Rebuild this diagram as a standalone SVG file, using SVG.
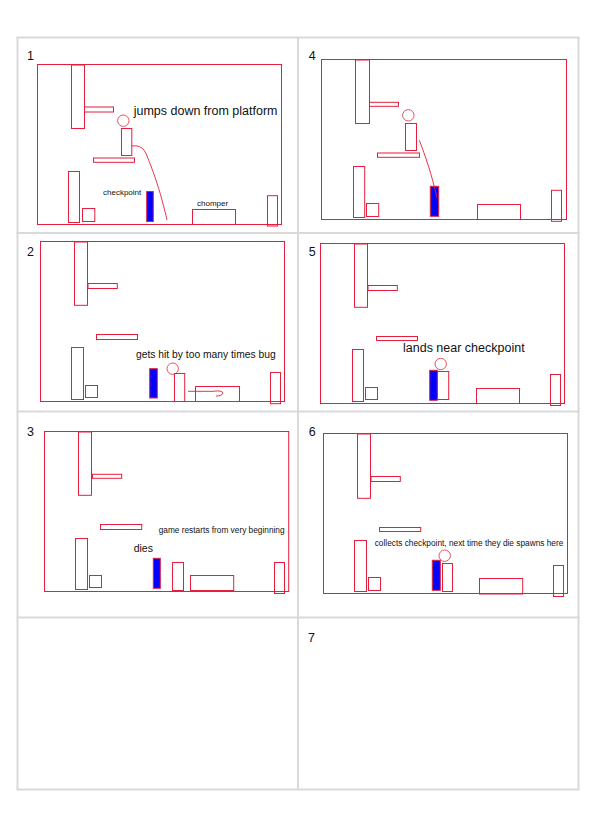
<svg xmlns="http://www.w3.org/2000/svg" width="595" height="832" viewBox="0 0 595 832">
<style>
.grid{stroke:#d9d9d9;stroke-width:2;fill:none}
.r{fill:none;stroke:#e41e3c;stroke-width:1}
.cp{fill:#0000ff;stroke:#e41e3c;stroke-width:1}
.head{fill:none;stroke:#e8505f;stroke-width:1}
.path{fill:none;stroke:#e41e3c;stroke-width:0.9}
.num{font-family:"Liberation Sans",Arial,sans-serif;font-size:12.5px;fill:#111}
.t{font-family:"Liberation Sans",Arial,sans-serif;fill:#111}
</style>
<rect width="595" height="832" fill="#fff"/>
<g id="grid">
<line class="grid" x1="17.5" y1="37" x2="17.5" y2="790"/>
<line class="grid" x1="298" y1="37" x2="298" y2="790"/>
<line class="grid" x1="578.5" y1="37" x2="578.5" y2="790"/>
<line class="grid" x1="16.5" y1="37.5" x2="579.5" y2="37.5"/>
<line class="grid" x1="16.5" y1="233" x2="579.5" y2="233"/>
<line class="grid" x1="16.5" y1="411.5" x2="579.5" y2="411.5"/>
<line class="grid" x1="16.5" y1="617.5" x2="579.5" y2="617.5"/>
<line class="grid" x1="16.5" y1="789.5" x2="579.5" y2="789.5"/>
</g>

<g id="panel1">
<text class="num" x="27" y="60">1</text>
<rect class="r" x="37.5" y="64.5" width="244" height="160"/>
<rect class="r" x="71.5" y="65" width="13" height="63.5"/>
<rect class="r" x="84.5" y="107" width="29" height="5"/>
<circle class="head" cx="123.3" cy="120.7" r="5.7"/>
<rect class="r" x="121.5" y="128.5" width="10.3" height="27"/>
<rect class="r" x="93.5" y="158" width="41" height="4.3"/>
<rect class="r" x="68.5" y="171.5" width="11" height="51"/>
<rect class="r" x="82.5" y="208.5" width="12.3" height="13"/>
<rect class="cp" x="146.7" y="191.5" width="6.6" height="30"/>
<text class="t" x="103" y="194.5" font-size="8">checkpoint</text>
<rect class="r" x="192.5" y="209.5" width="43" height="15"/>
<text class="t" x="197" y="205.5" font-size="8">chomper</text>
<rect class="r" x="267.5" y="195.7" width="10" height="30.3"/>
<text class="t" x="133.7" y="114.5" font-size="12.5">jumps down from platform</text>
</g>

<g id="panel4">
<text class="num" x="308.7" y="59.7">4</text>
<rect class="r" x="321.5" y="59.5" width="245" height="160"/>
<rect class="r" x="355.5" y="60" width="14" height="63.5"/>
<rect class="r" x="369.5" y="102.3" width="29" height="4"/>
<circle class="head" cx="408.3" cy="115.3" r="5.7"/>
<rect class="r" x="405.5" y="123.5" width="11" height="27"/>
<rect class="r" x="377.5" y="153" width="42" height="4.3"/>
<rect class="r" x="353.5" y="166.5" width="11.2" height="51"/>
<rect class="r" x="366.5" y="203.5" width="12.2" height="13"/>
<rect class="cp" x="430.3" y="186.3" width="8.4" height="30"/>
<rect class="r" x="477.5" y="204.5" width="43" height="15"/>
<rect class="r" x="551.5" y="190.3" width="10" height="31"/>
</g>

<g id="panel2">
<text class="num" x="27" y="256.3">2</text>
<rect class="r" x="40.5" y="241.5" width="244" height="160"/>
<rect class="r" x="74.5" y="242" width="13" height="63.3"/>
<rect class="r" x="88" y="283.5" width="29.3" height="5"/>
<rect class="r" x="96.5" y="334.5" width="41" height="5"/>
<text class="t" x="136" y="358" font-size="10.3">gets hit by too many times bug</text>
<rect class="r" x="71.5" y="347.5" width="12" height="52"/>
<rect class="r" x="85.5" y="385.5" width="12" height="12"/>
<rect class="cp" x="149.7" y="368.7" width="7.6" height="29.3"/>
<circle class="head" cx="172.7" cy="368.7" r="5.7"/>
<rect class="r" x="174.5" y="373.5" width="10.2" height="28"/>
<rect class="r" x="195.5" y="386.5" width="44" height="15"/>
<rect class="r" x="270.5" y="372.5" width="10" height="31.2"/>
</g>

<g id="panel5">
<text class="num" x="308.7" y="256.3">5</text>
<rect class="r" x="320.5" y="243.5" width="244" height="160"/>
<rect class="r" x="354.5" y="244" width="13" height="63.3"/>
<rect class="r" x="368" y="285.5" width="29.3" height="5"/>
<rect class="r" x="376.5" y="336.5" width="41" height="4"/>
<text class="t" x="403" y="351.7" font-size="12.5">lands near checkpoint</text>
<rect class="r" x="352.5" y="349.5" width="11" height="52"/>
<rect class="r" x="365.5" y="387.5" width="12" height="12"/>
<rect class="cp" x="429.7" y="370.3" width="7.6" height="30"/>
<circle class="head" cx="440.7" cy="364" r="5.7"/>
<rect class="r" x="437.5" y="371.5" width="11.2" height="28"/>
<rect class="r" x="476.5" y="388.5" width="43" height="15"/>
<rect class="r" x="550.5" y="374.5" width="10" height="31"/>
</g>

<g id="panel3">
<text class="num" x="27" y="436">3</text>
<rect class="r" x="44.5" y="431.5" width="244.2" height="160"/>
<rect class="r" x="78.5" y="432" width="13" height="63.3"/>
<rect class="r" x="92.5" y="474.3" width="29.2" height="4"/>
<rect class="r" x="100.5" y="524.5" width="41.2" height="5"/>
<text class="t" x="158.7" y="533" font-size="8.3">game restarts from very beginning</text>
<text class="t" x="133.7" y="551.7" font-size="10.5">dies</text>
<rect class="r" x="75.5" y="538.5" width="12" height="51"/>
<rect class="r" x="89.5" y="575.5" width="12" height="12"/>
<rect class="cp" x="153.3" y="558.3" width="7" height="30"/>
<rect class="r" x="172.5" y="562.5" width="11" height="28"/>
<rect class="r" x="190.5" y="575.5" width="43.2" height="15"/>
<rect class="r" x="274.5" y="562.5" width="10" height="31"/>
</g>

<g id="panel6">
<text class="num" x="308.7" y="436">6</text>
<rect class="r" x="323.5" y="433.5" width="244" height="160"/>
<rect class="r" x="357.5" y="434" width="13" height="64.3"/>
<rect class="r" x="371" y="476.5" width="29.3" height="5"/>
<rect class="r" x="379.5" y="527.5" width="41.2" height="4"/>
<text class="t" x="374.7" y="546" font-size="8.3">collects checkpoint, next time they die spawns here</text>
<rect class="r" x="354.5" y="540.5" width="12" height="51"/>
<rect class="r" x="368.5" y="577.5" width="12" height="13"/>
<rect class="cp" x="432.3" y="560.3" width="8" height="30"/>
<circle class="head" cx="444.7" cy="555.7" r="5.7"/>
<rect class="r" x="442.5" y="563.5" width="10" height="28"/>
<rect class="r" x="479.5" y="578.5" width="43.2" height="15.5"/>
<rect class="r" x="553.5" y="565.5" width="10" height="31"/>
</g>

<g id="panel7">
<text class="num" x="308" y="641.5">7</text>
</g>

<g id="motion-paths">
<path class="path" d="M131.7,146 C140,145 144,148 147,156 C152,168 158,185 162,200 C164,208 166,215 167,220"/>
<path class="path" d="M419.3,140.3 C425,155 432,175 437,198"/>
<path class="path" d="M188,391.3 L213,391.3 Q222,390 223,393 Q222,396 216,396"/>
</g>
</svg>
